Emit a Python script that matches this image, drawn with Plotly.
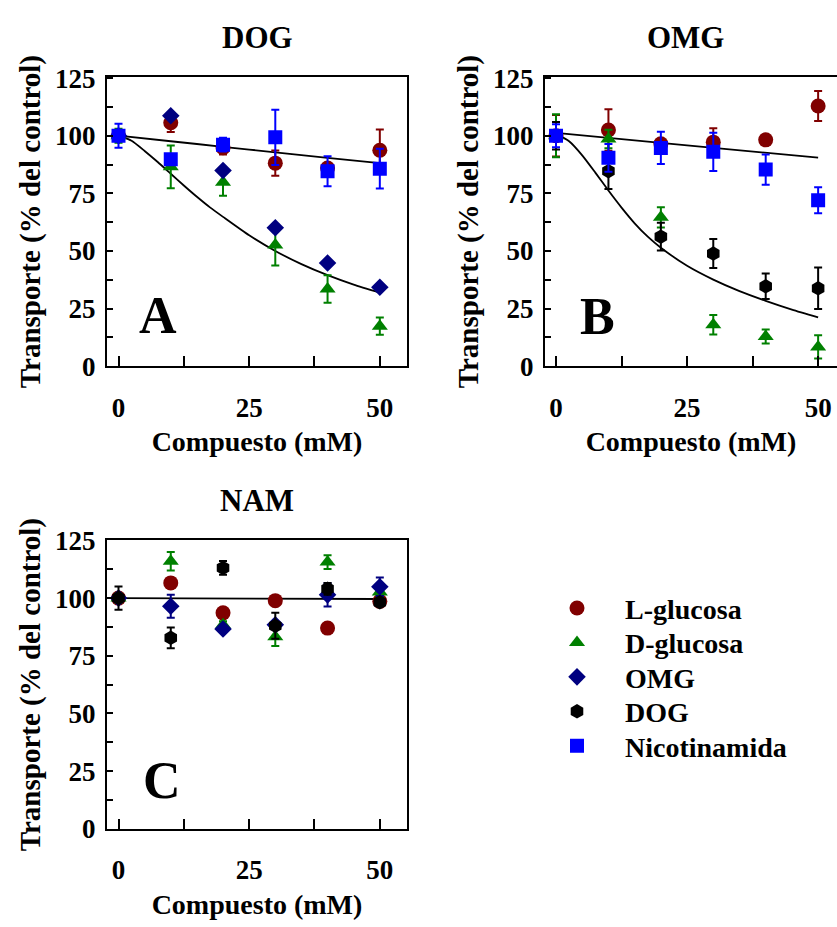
import plotly.graph_objects as go

# ---------------- data ----------------
conc = [0, 10, 20, 30, 40, 50]

# Panel A: DOG
a_lglu = [100, 105.6, 94.8, 88.1, 86.0, 93.7]
a_lglu_err = [2, 4, 3, 5.5, 1.5, 9]
a_dglu = [100, 86.5, 79.8, 52.6, 33.5, 17.4]
a_dglu_err = [3, 9.3, 5.8, 8.9, 6, 3.7]
a_omg = [100, 108.7, 84.9, 60.1, 44.8, 34.3]
a_omg_err = [1, 1, 1, 1, 1, 1]
a_nic = [100, 89.8, 96.1, 99.3, 84.6, 85.7]
a_nic_err = [5.2, 2, 3, 12, 6.5, 8.6]
a_fit_hi_x = [0, 10, 20, 30, 40, 50]
a_fit_hi_y = [100, 97.6, 95.2, 92.8, 90.4, 88.1]
a_fit_lo_x = [0, 2.5, 5, 7.5, 10, 12.5, 15, 17.5, 20, 25, 30, 35, 40, 45, 50]
a_fit_lo_y = [100, 97.8, 93.4, 88.6, 83.5, 78.4, 73.5, 68.9, 64.8, 56.8, 50.0,
              44.3, 39.5, 35.4, 31.9]

# Panel B: OMG
b_lglu = [100, 102.5, 96.5, 97.2, 98.2, 112.9]
b_lglu_err = [9, 9, 2, 6, 1.5, 6.5]
b_dglu = [100, 98.6, 64.6, 18.0, 12.9, 8.4]
b_dglu_err = [9.3, 4, 4.4, 4.2, 3, 5]
b_dog = [100, 84.6, 56.2, 48.9, 34.7, 33.8]
b_dog_err = [6, 7.7, 6, 6.3, 5.5, 9]
b_nic = [100, 90.4, 94.7, 93.0, 85.3, 72.0]
b_nic_err = [5, 6, 7, 8.3, 6.6, 5.6]
b_fit_hi_x = [0, 25, 50]
b_fit_hi_y = [101.2, 95.8, 90.5]
b_fit_lo_x = [0, 2.5, 5, 7.5, 10, 12.5, 15, 17.5, 20, 25, 30, 35, 40, 45, 50]
b_fit_lo_y = [100.8, 97.6, 91.5, 84.0, 76.2, 68.8, 62.0, 56.2, 51.4, 43.6, 37.6,
              32.6, 28.4, 24.6, 21.2]

# Panel C: NAM
c_lglu = [100, 106.6, 93.6, 98.9, 87.0, 98.6]
c_lglu_err = [1.5, 1.5, 1.5, 1.5, 1.5, 1.5]
c_dglu = [100, 116.0, 88.5, 83.2, 115.6, 102.6]
c_dglu_err = [2, 4, 1.5, 4, 3, 2]
c_omg = [100, 96.5, 86.6, 88.4, 101.4, 104.9]
c_omg_err = [1, 5, 1, 1, 5, 4]
c_dog = [100, 82.8, 113.1, 88.0, 104.0, 98.2]
c_dog_err = [5, 4.5, 3, 5.6, 2.5, 1.5]
c_fit_x = [0, 50]
c_fit_y = [100, 99.6]

panel_titles = ["DOG", "OMG", "NAM"]
panel_letters = ["A", "B", "C"]
series_names = ["L-glucosa", "D-glucosa", "OMG", "DOG", "Nicotinamida"]
y_ticks = [0, 25, 50, 75, 100, 125]
x_ticks = [0, 25, 50]

# ---------------- style ----------------
FONT = "Liberation Serif"
W, H = 837, 927
style = {
    "L-glucosa": dict(symbol="circle", color="#800000", size=15),
    "D-glucosa": dict(symbol="triangle-up", color="#008000", size=14),
    "OMG": dict(symbol="diamond", color="#000080", size=13.5),
    "DOG": dict(symbol="hexagon", color="#000000", size=14.5),
    "Nicotinamida": dict(symbol="square", color="#0000FF", size=14),
}

fig = go.Figure()


def add_series(name, y, err, xa, ya):
    s = style[name]
    fig.add_trace(go.Scatter(
        x=conc, y=y, mode="markers", name=name, legendgroup=name,
        showlegend=False, xaxis=xa, yaxis=ya,
        marker=dict(symbol=s["symbol"], color=s["color"], size=s["size"],
                    line=dict(width=0)),
        error_y=dict(type="data", array=err, color=s["color"],
                     thickness=2, width=4),
    ))


def add_fit(x, y, xa, ya):
    fig.add_trace(go.Scatter(
        x=x, y=y, mode="lines", showlegend=False, xaxis=xa, yaxis=ya,
        line=dict(color="black", width=1.8, shape="spline", smoothing=0.6),
        hoverinfo="skip",
    ))


# fitted lines first (under markers)
add_fit(a_fit_hi_x, a_fit_hi_y, "x", "y")
add_fit(a_fit_lo_x, a_fit_lo_y, "x", "y")
add_fit(b_fit_hi_x, b_fit_hi_y, "x2", "y2")
add_fit(b_fit_lo_x, b_fit_lo_y, "x2", "y2")
add_fit(c_fit_x, c_fit_y, "x3", "y3")

add_series("L-glucosa", a_lglu, a_lglu_err, "x", "y")
add_series("D-glucosa", a_dglu, a_dglu_err, "x", "y")
add_series("OMG", a_omg, a_omg_err, "x", "y")
add_series("L-glucosa", b_lglu, b_lglu_err, "x2", "y2")
add_series("D-glucosa", b_dglu, b_dglu_err, "x2", "y2")
add_series("DOG", b_dog, b_dog_err, "x2", "y2")
add_series("L-glucosa", c_lglu, c_lglu_err, "x3", "y3")
add_series("D-glucosa", c_dglu, c_dglu_err, "x3", "y3")
add_series("OMG", c_omg, c_omg_err, "x3", "y3")
add_series("DOG", c_dog, c_dog_err, "x3", "y3")
add_series("Nicotinamida", a_nic, a_nic_err, "x", "y")
add_series("Nicotinamida", b_nic, b_nic_err, "x2", "y2")

# legend key (own hidden axes): one marker per series, rows by index
for i, name in enumerate(series_names):
    s = style[name]
    fig.add_trace(go.Scatter(
        x=[0], y=[i], mode="markers", name=name, showlegend=False,
        xaxis="x4", yaxis="y4", cliponaxis=False,
        marker=dict(symbol=s["symbol"], color=s["color"], size=s["size"],
                    line=dict(width=0)),
    ))


def px_x(p):
    return p / W


def px_y(p):
    return 1 - p / H


tick_font = dict(family=FONT, size=27, color="black", weight="bold")
xtitle_font = dict(family=FONT, size=28, color="black", weight="bold")
ytitle_font = dict(family=FONT, size=29, color="black", weight="bold")


def xaxis(domain, rng, anchor, mirror=True):
    return dict(domain=domain, range=rng, anchor=anchor, showgrid=False,
                zeroline=False, showline=True, linecolor="black", linewidth=2,
                mirror=mirror, ticks="inside", ticklen=10, tickwidth=2,
                tickcolor="black", tickvals=x_ticks, tickfont=tick_font,
                ticklabelstandoff=16,
                minor=dict(dtick=12.5, tick0=0, ticks="inside", ticklen=10,
                           tickwidth=2, tickcolor="black", showgrid=False),
                title=dict(text="Compuesto (mM)", font=xtitle_font, standoff=10))


def yaxis(domain, rng, anchor, mirror=True):
    return dict(domain=domain, range=rng, anchor=anchor, showgrid=False,
                zeroline=False, showline=True, linecolor="black", linewidth=2,
                mirror=mirror, ticks="inside", ticklen=6, tickwidth=2,
                tickcolor="black", tickvals=y_ticks, tickfont=tick_font,
                ticklabelstandoff=4,
                minor=dict(dtick=12.5, tick0=0, ticks="inside", ticklen=6,
                           tickwidth=2, tickcolor="black", showgrid=False),
                title=dict(text="Transporte (% del control)", font=ytitle_font,
                           standoff=6))


top_dom = [px_y(363), px_y(64)]
bot_dom = [px_y(841), px_y(543)]
left_dom = [px_x(107), px_x(407)]
right_dom = [px_x(545), 1.0]

hidden = dict(visible=False, showgrid=False, zeroline=False, fixedrange=True)

fig.update_layout(
    width=W, height=H, margin=dict(l=0, r=0, t=0, b=0),
    paper_bgcolor="white", plot_bgcolor="white", showlegend=False,
    xaxis=xaxis(left_dom, [-2.2, 55.2], "y"),
    yaxis=yaxis(top_dom, [0, 125.5], "x"),
    xaxis2=xaxis(right_dom, [-2.1, 53.6], "y2"),
    yaxis2=yaxis(top_dom, [0, 125.5], "x2", mirror=False),
    xaxis3=xaxis(left_dom, [-2.2, 55.2], "y3"),
    yaxis3=yaxis(bot_dom, [0, 125], "x3"),
    xaxis4=dict(domain=[px_x(567), px_x(587)], range=[-1, 1], anchor="y4",
                **hidden),
    yaxis4=dict(domain=[px_y(773), px_y(595)], range=[4.5, -0.5], anchor="x4",
                **hidden),
)

ann = []
for t, (cx, cy) in zip(panel_titles, [(257, 23), (686, 23), (257, 502)]):
    ann.append(dict(text=t, x=px_x(cx), y=px_y(cy), xref="paper", yref="paper",
                    showarrow=False, xanchor="center", yanchor="middle",
                    font=dict(family=FONT, size=31, color="black", weight="bold")))
for t, (cx, cy) in zip(panel_letters, [(158, 311), (597, 312), (162, 791)]):
    ann.append(dict(text=t, x=px_x(cx), y=px_y(cy), xref="paper", yref="paper",
                    showarrow=False, xanchor="center", yanchor="middle",
                    font=dict(family=FONT, size=52, color="black", weight="bold")))
for i, name in enumerate(series_names):
    ann.append(dict(text=name, x=px_x(623), y=i + 0.04, xref="paper", yref="y4",
                    showarrow=False, xanchor="left", yanchor="middle",
                    font=dict(family=FONT, size=28, color="black", weight="bold")))
fig.update_layout(annotations=ann)

fig.write_html("out.html")
